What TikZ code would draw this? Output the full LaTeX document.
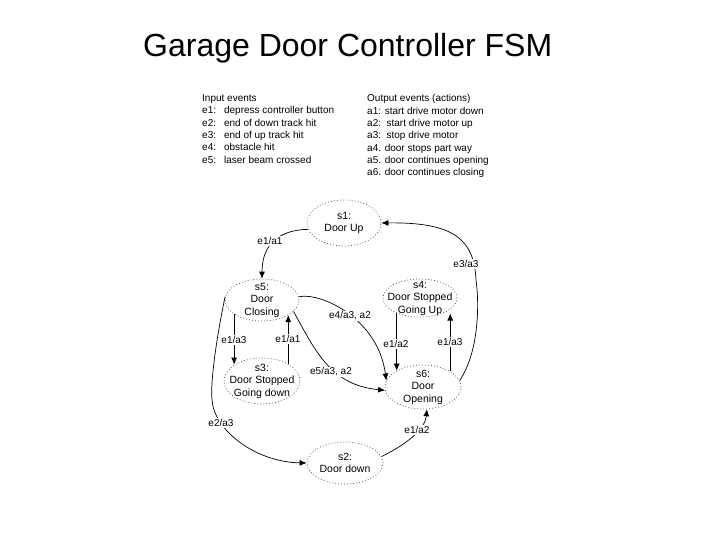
\documentclass[tikz,border=0pt]{standalone}
\usepackage{fontspec}
\setmainfont{Liberation Sans}
\usetikzlibrary{shapes.geometric,arrows.meta}
\begin{document}
\begin{tikzpicture}[x=1pt,y=-1pt,
  statebox/.style={ellipse, draw=black!65, dash pattern=on 0.9pt off 2.1pt, line width=0.7pt, inner sep=0pt},
  stxt/.style={align=center, inner sep=0pt, font=\fontsize{10.5}{12.5}\selectfont},
  edge/.style={-{Latex[length=7pt,width=6pt]}, line width=0.7pt},
  lbl/.style={fill=white, inner sep=1pt, font=\fontsize{10}{12}\selectfont},
  legend/.style={align=left, inner sep=0pt, anchor=north west, font=\fontsize{10}{12.3}\selectfont}]
\fill[white] (0,0) rectangle (720,540);
\useasboundingbox (0,0) rectangle (720,540);

% title
\node[anchor=base west, inner sep=0pt, font=\fontsize{32}{36}\selectfont] (title) at (143,57) {Garage Door Controller FSM};

% legend
\node[legend] (inputs) at (202,94.5) {Input events\\
e1:\hspace{8pt}depress controller button\\
e2:\hspace{8pt}end of down track hit\\
e3:\hspace{8pt}end of up track hit\\
e4:\hspace{8pt}obstacle hit\\
e5:\hspace{8pt}laser beam crossed};
\node[legend] (outputs) at (367,94.5) {Output events (actions)\\
a1: start drive motor down\\
a2:\ \ start drive motor up\\
a3:\ \ stop drive motor\\
a4. door stops part way\\
a5. door continues opening\\
a6. door continues closing};

% states
\node[statebox, minimum width=74pt, minimum height=46pt] (s1) at (344,223) {};
\node[statebox, minimum width=74pt, minimum height=42pt] (s5) at (262,300) {};
\node[statebox, minimum width=74pt, minimum height=38pt] (s4) at (420,298) {};
\node[statebox, minimum width=76pt, minimum height=46pt] (s3) at (262,381) {};
\node[statebox, minimum width=76pt, minimum height=44pt] (s6) at (423,387) {};
\node[statebox, minimum width=76pt, minimum height=42pt] (s2) at (345,463) {};

\node[stxt] (t1) at (s1) {s1:\\Door Up};
\node[stxt] (t5) at (s5) {s5:\\Door\\Closing};
\node[stxt] (t4) at (s4) {s4:\\Door Stopped\\Going Up};
\node[stxt] (t3) at (s3) {s3:\\Door Stopped\\Going down};
\node[stxt] (t6) at (s6) {s6:\\Door\\Opening};
\node[stxt] (t2) at (s2) {s2:\\Door down};

% transitions
\draw[edge] (s1.190) .. controls (278,230) and (262,245) .. (s5.north);
\draw[edge] (s6.10) .. controls (480,350) and (479,300) .. (476,280)
            .. controls (474,240) and (455,222) .. (s1.east);
\draw[edge] (s5.-153) -- (s5.-153 |- s3.149);
\draw[edge] (s3.33) -- (s3.33 |- s5.-30);
\draw[edge] (s5.5) .. controls (320,292) and (378,318) .. (s6.170);
\draw[edge] (s5.-20) .. controls (315,350) and (330,385) .. (s6.185);
\draw[edge] (s4.-147) -- (s4.-147 |- s6.148);
\draw[edge] (s6.30) -- (s6.30 |- s4.-35);
\draw[edge] (s5.175) .. controls (218,330) and (210,380) .. (212,400)
            .. controls (214,430) and (255,462) .. (s2.west);
\draw[edge] (s2.10) .. controls (405,445) and (425,430) .. (s6.-80);

% labels
\node[lbl] (l1) at (270,241) {e1/a1};
\node[lbl] (l2) at (466,264) {e3/a3};
\node[lbl] (l3) at (234,340) {e1/a3};
\node[lbl] (l4) at (288,339) {e1/a1};
\node[lbl] (l5) at (350,316) {e4/a3, a2};
\node[lbl] (l6) at (331,372) {e5/a3, a2};
\node[lbl] (l7) at (396,344) {e1/a2};
\node[lbl] (l8) at (450,342) {e1/a3};
\node[lbl] (l9) at (221,423) {e2/a3};
\node[lbl] (l10) at (417,430) {e1/a2};
\end{tikzpicture}
\end{document}
